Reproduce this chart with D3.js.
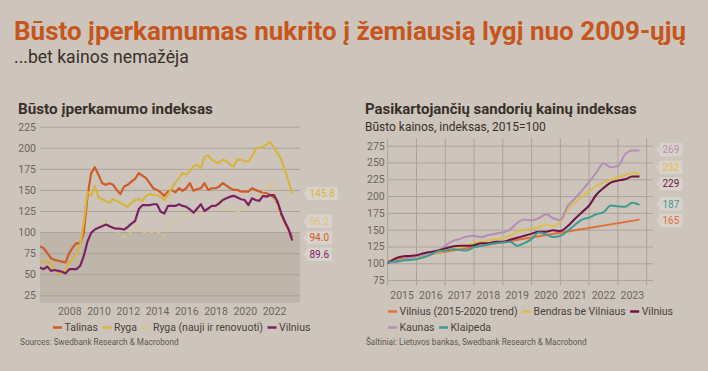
<!DOCTYPE html>
<html>
<head>
<meta charset="utf-8">
<script src="https://cdn.jsdelivr.net/npm/d3@7.9.0/dist/d3.min.js"></script>
<style>
  body { margin: 0; background: #cdc5bc; }
  svg { display: block; font-family: Roboto, "Noto Sans", sans-serif; }
</style>
</head>
<body>
<svg id="chart" width="708" height="371"></svg>
<script>
// ---- left panel: affordability index, quarterly from 2006Q1
const leftStart = 2006;
const leftYearTicks = [2008, 2010, 2012, 2014, 2016, 2018, 2020, 2022];
const leftValueTicks = [25, 50, 75, 100, 125, 150, 175, 200, 225];

const talinas = [
  83, 81, 75, 69,  67, 66, 65, 64,  75, 82, 87, 86,  100, 143, 170, 177,
  168, 158, 156, 158,  156, 150, 145, 154,  156, 160, 163, 170,  167, 164, 158, 152,
  150, 147, 143, 148,  150, 147, 152, 149,  152, 158, 149, 151,  152, 158, 150, 152,
  152, 154, 158, 155,  152, 150, 150, 148,  148, 148, 152, 150,  148, 147, 146, 144,
  141, 134, 121, 112,  103, 94
];
const ryga = [
  64, 65, 66, 61,  55, 52, 51, 55,  64, 68, 74, 85,  112, 148, 143, 155,
  141, 139, 137, 135,  139, 137, 135, 132,  130, 135, 138, 139,  137, 143, 145, 144,
  144, 142, 138, 144,  152, 158, 164, 170,  168, 172, 178, 180,  176, 189, 191, 186,
  183, 182, 186, 184,  180, 178, 186, 186,  184, 184, 190, 199,  200, 201, 204, 207,
  200, 193, 186, 174,  160, 146
];
const rygaNew = [
  null, null, null, null,  null, null, null, null,  null, null, null, null,  null, null, null, null,
  108, 112, 115, 106,  106, 101, 96, 95,  95, 101, 107, 101,  100, 99, 100, 99,
  100, 99, 95, 108,  111, 112, 115, 118,  121, 123, 125, 123,  121, 125, 127, 130,
  133, 138, 130, 125,  123, 123, 124, 125,  126, 129, 137, 141,  144, 148, 152, 159,
  145, 128, 115, 106,  100, 96
];
const vilniusAfford = [
  58, 56, 59, 54,  55, 54, 53, 51,  56, 56, 56, 60,  72, 89, 99, 103,
  105, 107, 109, 107,  105, 104, 104, 103,  106, 110, 113, 127,  132, 132, 132, 133,
  133, 124, 122, 131,  131, 131, 133, 131,  130, 127, 123, 128,  133, 125, 128, 131,
  131, 134, 138, 140,  142, 143, 141, 139,  138, 132, 140, 138,  137, 143, 142, 144,
  144, 136, 122, 112,  103, 90
];
const leftEndLabels = ['145.8', '96.2', '94.0', '89.6'];
const leftEndValues = [145.8, 96.2, 94.0, 89.6];

// ---- right panel: repeat-sales price index, quarterly from 2015Q1
const rightStart = 2015;
const rightYears = [2015, 2016, 2017, 2018, 2019, 2020, 2021, 2022, 2023];
const rightValueTicks = [75, 100, 125, 150, 175, 200, 225, 250, 275];

const trendYears = [2015, 2023.75];
const trendValues = [103, 165];
const bendras = [
  101, 103, 105, 106,  108, 110, 114, 116,  119, 122, 124, 126,  130, 132, 134, 136,
  137, 141, 147, 150,  151, 154, 158, 155,  162, 180, 190, 199,  207, 215, 220, 224,
  228, 231, 235, 232
];
const vilniusPrice = [
  100, 107, 110, 111,  112, 115, 117, 119,  122, 125, 126, 126,  127, 130, 130, 132,
  132, 135, 138, 141,  144, 147, 147, 149,  148, 155, 166, 176,  186, 202, 212, 220,
  223, 225, 229, 229
];
const kaunas = [
  102, 101, 104, 108,  110, 113, 116, 118,  126, 133, 136, 140,  141, 139, 142, 144,
  146, 150, 160, 165,  164, 167, 173, 167,  164, 185, 196, 208,  221, 235, 249, 243,
  245, 262, 268, 268
];
const klaipeda = [
  101, 103, 104, 105,  106, 109, 113, 118,  119, 121, 120, 119,  124, 126, 128, 130,
  131, 132, 126, 130,  136, 146, 143, 139,  141, 148, 157, 165,  168, 173, 176, 186,
  185, 184, 190, 187
];
const rightEndLabels = ['269', '232', '229', '187', '165'];
const rightEndValues = [269, 232, 229, 187, 165];

const C = {
  title: '#c6561d', dark: '#3a302b', tick: '#6e655e', legend: '#4b423c', source: '#5f5750',
  grid: '#aca298', shade: '#beb5ab', box: '#d9d2ca',
  talinas: '#cf5b26', ryga: '#d8b440', rygaNew: '#dcc27c', vilnius: '#7b2266',
  trend: '#e0703a', bendras: '#e0bd4b', vilniusP: '#6e1446', kaunas: '#b58db6', klaipeda: '#3e9b94'
};

const svg = d3.select('#chart');

function fitWidth(sel, w) {
  const len = sel.node().getComputedTextLength();
  sel.attr('font-size', parseFloat(sel.attr('font-size')) * w / len);
  return sel;
}

function addText(x, y, str, size, color, weight) {
  return svg.append('text')
    .attr('x', x).attr('y', y)
    .attr('font-size', size)
    .attr('font-weight', weight || 400)
    .attr('fill', color)
    .text(str);
}

// headline: a slightly condensed look, squeezed to the reference width
addText(14, 39.5, 'Būsto įperkamumas nukrito į žemiausią lygį nuo 2009-ųjų', 25.5, C.title, 700)
  .attr('textLength', 672)
  .attr('lengthAdjust', 'spacingAndGlyphs');
fitWidth(addText(14, 63, '...bet kainos nemažėja', 16.5, C.dark, 400), 175);

// spread end labels apart so they do not overlap
function spread(ys, gap) {
  const order = d3.range(ys.length).sort((a, b) => ys[a] - ys[b]);
  const out = ys.slice();
  for (let it = 0; it < 300; it++) {
    let moved = false;
    for (let k = 0; k < order.length - 1; k++) {
      const a = order[k], b = order[k + 1];
      const d = out[b] - out[a];
      if (d < gap - 0.01) {
        out[a] -= (gap - d) / 2;
        out[b] += (gap - d) / 2;
        moved = true;
      }
    }
    if (!moved) break;
  }
  return out;
}

function endLabels(labels, values, colors, yScale, boxX) {
  const ys = spread(values.map(v => yScale(v)), 16.5);
  labels.forEach((lab, i) => {
    const g = svg.append('g').attr('transform', `translate(${boxX},${ys[i]})`);
    const t = g.append('text')
      .attr('x', 3).attr('y', 3.6)
      .attr('font-size', 10)
      .attr('fill', colors[i])
      .text(lab);
    const w = t.node().getComputedTextLength() + 6;
    g.insert('rect', 'text')
      .attr('x', 0).attr('y', -6.7)
      .attr('width', w).attr('height', 13.4)
      .attr('fill', C.box);
    g.insert('path', 'text')
      .attr('d', 'M0,-3.5 L-3.5,0 L0,3.5 Z')
      .attr('fill', C.box);
  });
}

function legend(items, x0, y, size) {
  let x = x0;
  items.forEach(it => {
    const line = svg.append('line')
      .attr('x1', x).attr('x2', x + 9)
      .attr('y1', y - 3.5).attr('y2', y - 3.5)
      .attr('stroke', it.color)
      .attr('stroke-width', 2.5);
    if (it.dash) line.attr('stroke-dasharray', '3.5,2.5');
    const t = addText(x + 11.5, y, it.label, size, C.legend, 400);
    x += 11.5 + t.node().getComputedTextLength() + 4.5;
  });
}

// ================= LEFT PANEL =================
const lx = d3.scaleLinear().domain([2006, 2023.78]).range([40, 300]);
const ly = d3.scaleLinear().domain([25, 225]).range([295.3, 126.7]);

fitWidth(addText(18, 114, 'Būsto įperkamumo indeksas', 15, C.dark, 700), 195);

svg.append('rect')
  .attr('x', lx.range()[0]).attr('y', ly(100))
  .attr('width', lx.range()[1] - lx.range()[0])
  .attr('height', 302.7 - ly(100))
  .attr('fill', C.shade);

const lyAxis = svg.append('g')
  .attr('transform', `translate(${lx.range()[0]},0)`)
  .call(d3.axisLeft(ly).tickValues(leftValueTicks).tickSize(-(lx.range()[1] - lx.range()[0])).tickPadding(4));
lyAxis.select('.domain').remove();
lyAxis.selectAll('line').attr('stroke', C.grid).attr('stroke-width', 1);
lyAxis.selectAll('text').attr('fill', C.tick).attr('font-size', 10.5).attr('font-family', 'Roboto, sans-serif');

const lxAxis = svg.append('g')
  .attr('transform', 'translate(0,302.7)')
  .call(d3.axisBottom(lx).tickValues(leftYearTicks).tickFormat(d3.format('d')).tickSize(0).tickPadding(5));
lxAxis.select('.domain').remove();
lxAxis.selectAll('text').attr('fill', C.tick).attr('font-size', 10.5).attr('font-family', 'Roboto, sans-serif');

const leftLine = d3.line()
  .defined(d => d != null)
  .x((d, i) => lx(leftStart + i * 0.25))
  .y(d => ly(d));

[
  { data: talinas, color: C.talinas },
  { data: ryga, color: C.ryga },
  { data: rygaNew, color: C.rygaNew, dash: '4,3', w: 1.6 },
  { data: vilniusAfford, color: C.vilnius }
].forEach(s => {
  svg.append('path')
    .attr('d', leftLine(s.data))
    .attr('fill', 'none')
    .attr('stroke', s.color)
    .attr('stroke-width', s.w || 2.2)
    .attr('stroke-linejoin', 'round')
    .attr('stroke-dasharray', s.dash || null);
});

endLabels(leftEndLabels, leftEndValues, [C.ryga, C.rygaNew, C.talinas, C.vilnius], ly, 306.5);

legend([
  { label: 'Talinas', color: C.talinas },
  { label: 'Ryga', color: C.ryga },
  { label: 'Ryga (nauji ir renovuoti)', color: C.rygaNew, dash: true },
  { label: 'Vilnius', color: C.vilnius }
], 53, 331, 10.5);

fitWidth(addText(20, 345, 'Sources: Swedbank Research & Macrobond', 8.5, C.source, 400), 159);

// ================= RIGHT PANEL =================
const rx = d3.scaleLinear().domain([2015, 2024]).range([387.7, 646.7]);
const ry = d3.scaleLinear().domain([75, 275]).range([280.1, 145.7]);

fitWidth(addText(365, 114, 'Pasikartojančių sandorių kainų indeksas', 15, C.dark, 700), 272);
fitWidth(addText(365, 130.5, 'Būsto kainos, indeksas, 2015=100', 11.5, C.dark, 400), 181);

const ryAxis = svg.append('g')
  .attr('transform', `translate(${rx(2015)},0)`)
  .call(d3.axisLeft(ry).tickValues(rightValueTicks).tickSize(-(rx(2024.22) - rx(2015))).tickPadding(3));
ryAxis.select('.domain').remove();
ryAxis.selectAll('line').attr('stroke', C.grid).attr('stroke-width', 1);
ryAxis.selectAll('text').attr('fill', C.tick).attr('font-size', 10.5).attr('font-family', 'Roboto, sans-serif');

svg.append('g').selectAll('line')
  .data(d3.range(2015, 2025))
  .join('line')
  .attr('x1', d => rx(d)).attr('x2', d => rx(d))
  .attr('y1', ry(286)).attr('y2', ry(67))
  .attr('stroke', C.grid).attr('stroke-width', 1);

svg.append('g').selectAll('text')
  .data(rightYears)
  .join('text')
  .attr('x', d => rx(d + 0.5)).attr('y', 298.5)
  .attr('text-anchor', 'middle')
  .attr('font-size', 10.5)
  .attr('fill', C.tick)
  .text(d => d);

const rightLine = d3.line()
  .x((d, i) => rx(rightStart + i * 0.25))
  .y(d => ry(d))
  .curve(d3.curveMonotoneX);

svg.append('path')
  .attr('d', d3.line().x(d => rx(d[0])).y(d => ry(d[1]))(d3.zip(trendYears, trendValues)))
  .attr('fill', 'none').attr('stroke', C.trend).attr('stroke-width', 2);

[
  { data: bendras, color: C.bendras },
  { data: kaunas, color: C.kaunas },
  { data: vilniusPrice, color: C.vilniusP },
  { data: klaipeda, color: C.klaipeda }
].forEach(s => {
  svg.append('path')
    .attr('d', rightLine(s.data))
    .attr('fill', 'none')
    .attr('stroke', s.color)
    .attr('stroke-width', 2)
    .attr('stroke-linejoin', 'round');
});

endLabels(rightEndLabels, rightEndValues, [C.kaunas, C.bendras, C.vilniusP, C.klaipeda, C.trend], ry, 659.5);

legend([
  { label: 'Vilnius (2015-2020 trend)', color: C.trend },
  { label: 'Bendras be Vilniaus', color: C.bendras },
  { label: 'Vilnius', color: C.vilniusP }
], 388, 315, 10.5);
legend([
  { label: 'Kaunas', color: C.kaunas },
  { label: 'Klaipeda', color: C.klaipeda }
], 388, 331, 10.5);

fitWidth(addText(366, 345, 'Šaltiniai: Lietuvos bankas, Swedbank Research & Macrobond', 8.5, C.source, 400), 221);
</script>
</body>
</html>
